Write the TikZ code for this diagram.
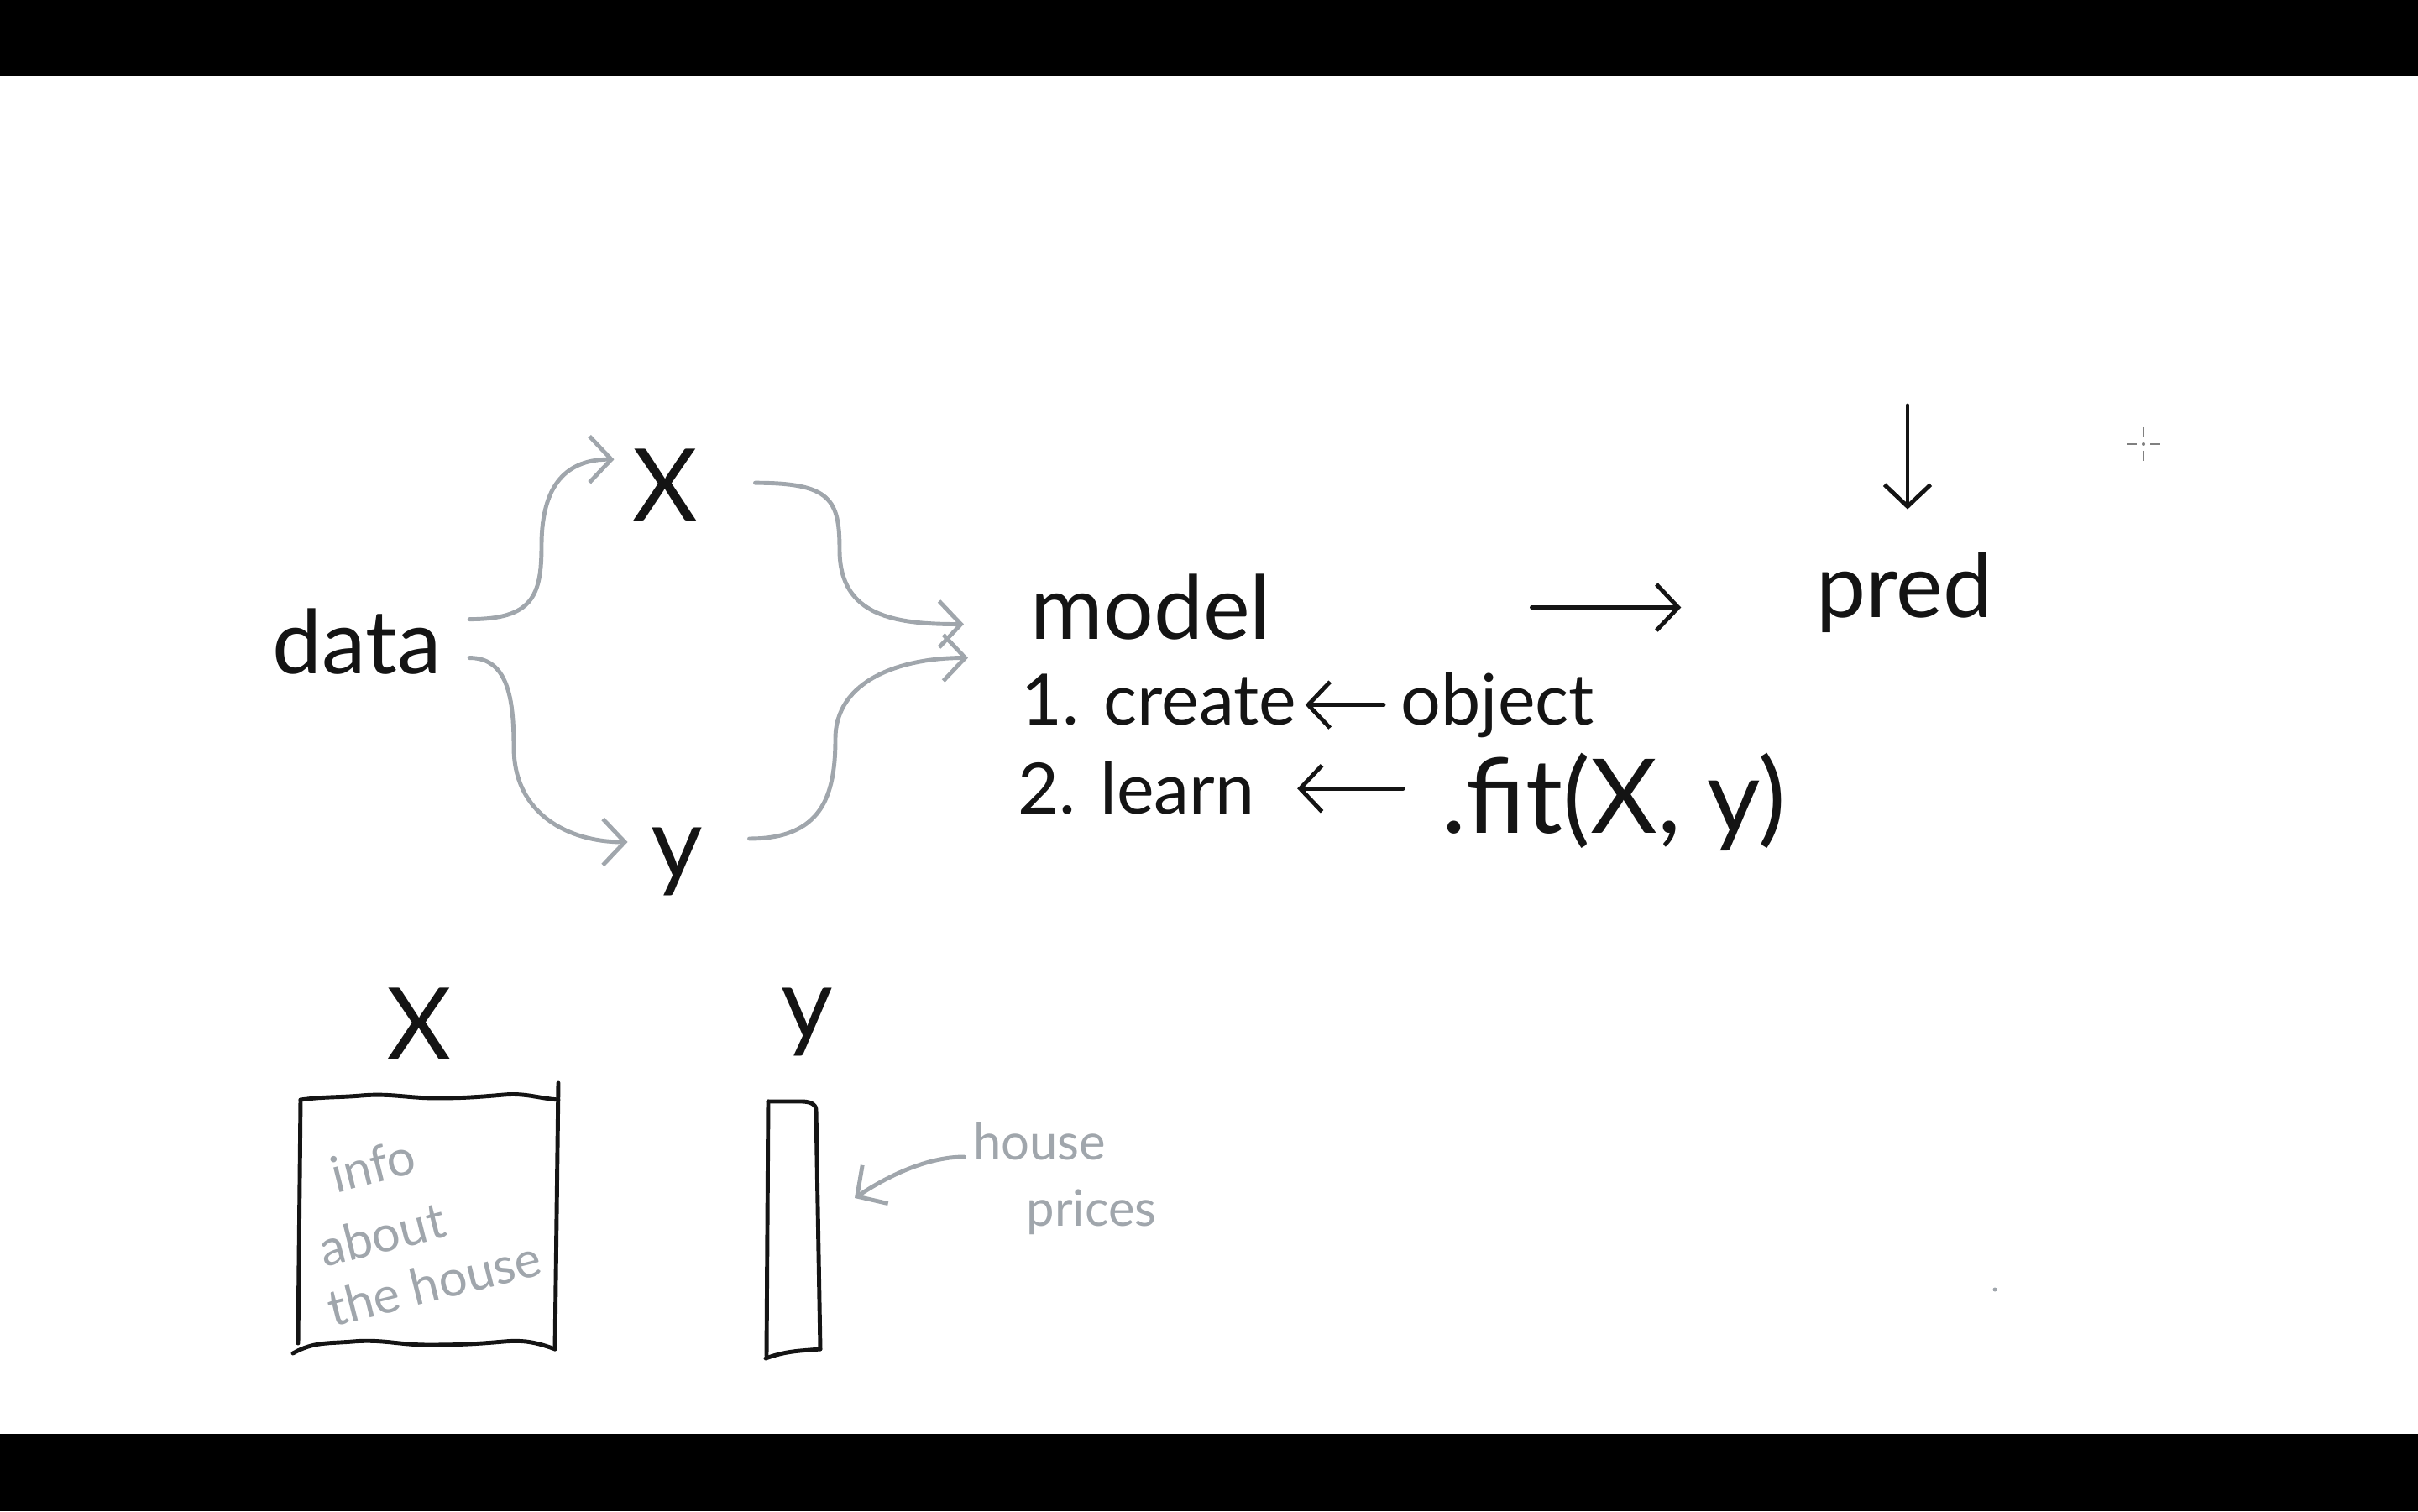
\documentclass[tikz,border=0pt]{standalone}
\usepackage{fontspec}
\setmainfont{Lato}
\usetikzlibrary{arrows.meta}
\definecolor{pencil}{RGB}{160,166,172}
\definecolor{ink}{RGB}{20,20,20}
\begin{document}
\begin{tikzpicture}[>={Straight Barb[length=2.6mm,width=5.5mm]},
    hand/.style={font=\fontsize{30}{36}\selectfont, inner sep=0pt, text=ink},
    big/.style={font=\fontsize{34}{40}\selectfont, inner sep=0pt, text=ink},
    list/.style={font=\fontsize{24}{28}\selectfont, inner sep=0pt, text=ink, anchor=base west},
    note/.style={font=\fontsize{17}{20}\selectfont, inner sep=0pt, text=pencil},
    wire/.style={draw=pencil, line width=1.4pt, line cap=round, ->},
    pen/.style={draw=ink, line width=1.4pt, line cap=round}]
    \useasboundingbox (0,0) rectangle (28.8,18);
    \fill[black] (0,17.1) rectangle (28.8,18);
    \fill[black] (0,0) rectangle (28.8,0.92);

    \node[hand, anchor=base] (data) at (4.25,9.97) {data};
    \node[big, anchor=base] (X) at (7.92,11.79) {X};
    \node[big, anchor=base] (y) at (8.06,7.54) {y};
    \node[hand, anchor=base west] (model) at (12.27,10.38) {model};
    \node[hand, anchor=base] (pred) at (22.68,10.65) {pred};
    \node[list] (create) at (12.16,9.37) {1. create};
    \node[list] (object) at (16.68,9.37) {object};
    \node[list] (learn) at (12.12,8.30) {2. learn};
    \node[hand, anchor=base west, font=\fontsize{35}{40}\selectfont] (fit) at (17.17,8.08) {.fit(X, y)};

    \draw[wire] ([shift={(0.33,0.27)}]data.east) .. controls +(0.75,0) and +(0,-0.6) .. (6.45,11.5)
        .. controls +(0,0.75) and +(-0.55,0) .. ([shift={(-0.21,0.31)}]X.west);
    \draw[wire] ([shift={(0.33,-0.19)}]data.east) .. controls +(0.45,0) and +(0,0.6) .. (6.12,9.1)
        .. controls +(0,-0.8) and +(-0.7,0) .. ([shift={(-0.27,0.23)}]y.west);
    \draw[wire] ([shift={(0.68,0.03)}]X.east) .. controls +(0.9,0) and +(0,0.6) .. (10.0,11.45)
        .. controls +(0,-0.8) and +(-0.8,0) .. ([shift={(-0.79,-0.2)}]model.west);
    \draw[wire] ([shift={(0.55,0.27)}]y.east) .. controls +(0.85,0) and +(0,-0.7) .. (9.95,9.2)
        .. controls +(0,0.7) and +(-0.8,0) .. ([shift={(-0.74,-0.6)}]model.west);

    \draw[pen, ->] ([xshift=3.1cm]model.east) -- ([xshift=-1.6cm]pred.west |- model.east);
    \coordinate (feed) at (22.72,13.17);
    \draw[pen, ->] (feed) -- ([yshift=5mm]feed |- pred.north);
    \draw[pen, ->] ([xshift=-2mm]object.west) -- ([xshift=1mm]create.east |- object.west);
    \draw[pen, ->] ([xshift=-4.6mm]fit.west |- learn.east) -- ([xshift=5mm]learn.east);

    \node[big, anchor=base] (Xm) at (4.99,5.38) {X};
    \node[big, anchor=base] (ym) at (9.61,5.63) {y};
    \draw[pen] (3.58,4.90) to[out=8,in=185] (4.3,4.95) to[out=5,in=180] (5.2,4.92) to[out=0,in=185] (6.0,4.96) to[out=5,in=175] (6.65,4.90);
    \draw[pen] (6.65,5.10) -- (6.61,1.93);
    \draw[pen] (3.58,4.90) -- (3.55,2.00);
    \draw[pen] (3.49,1.88) to[out=30,in=185] (4.2,2.02) to[out=5,in=180] (5.1,1.98) to[out=0,in=185] (6.0,2.02) to[out=5,in=160] (6.61,1.93);
    \draw[pen] (9.15,4.88) -- (9.55,4.88) to[out=0,in=90] (9.72,4.78) -- (9.77,1.93);
    \draw[pen] (9.15,4.88) -- (9.13,1.85);
    \draw[pen] (9.12,1.82) to[out=20,in=185] (9.77,1.93);

    \node[note, rotate=14] (info) at (4.44,4.12) {info};
    \node[note, rotate=14] (about) at (4.55,3.30) {about};
    \node[note, rotate=14] (house) at (5.17,2.72) {the house};
    \node[note] (prc1) at (12.38,4.40) {house};
    \node[note] (prc2) at (13.0,3.56) {prices};
    \coordinate (yside) at (10.18,3.73);
    \draw[wire] ([shift={(-0.1,-0.18)}]prc1.west) .. controls +(-0.4,0) and +(0.45,0.3) .. (yside);

    \draw[gray, line width=0.6pt] (25.33,12.71) -- (25.45,12.71) (25.61,12.71) -- (25.73,12.71)
        (25.53,12.91) -- (25.53,12.79) (25.53,12.63) -- (25.53,12.51);
    \fill[gray] (25.53,12.71) circle (0.02);
    \fill[pencil] (23.76,2.64) circle (0.025);
\end{tikzpicture}
\end{document}
